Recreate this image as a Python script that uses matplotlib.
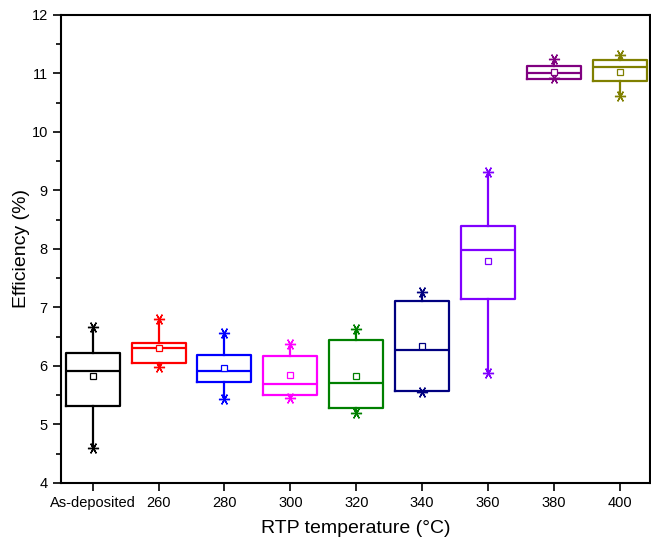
import matplotlib
matplotlib.use("Agg")
import matplotlib.pyplot as plt
from matplotlib.ticker import MultipleLocator

plt.rcParams['font.family'] = ['Liberation Sans', 'DejaVu Sans']

categories = ['As-deposited', '260', '280', '300', '320', '340', '360', '380', '400']
q1      = [5.32, 6.05, 5.72, 5.51, 5.28, 5.57, 7.15, 10.91, 10.87]
median  = [5.92, 6.31, 5.92, 5.69, 5.71, 6.27, 7.99, 11.01, 11.11]
q3      = [6.23, 6.39, 6.19, 6.17, 6.45, 7.11, 8.39, 11.13, 11.23]
mean    = [5.83, 6.30, 5.97, 5.84, 5.83, 6.34, 7.79, 11.03, 11.02]
minimum = [4.60, 5.99, 5.43, 5.45, 5.20, 5.56, 5.88, 10.92, 10.61]
maximum = [6.66, 6.80, 6.56, 6.38, 6.64, 7.26, 9.31, 11.24, 11.31]
colors  = ['#000000', '#FF0000', '#0000FF', '#FF00FF', '#008000',
           '#000080', '#8000FF', '#800080', '#808000']

fig = plt.figure(figsize=(6.51, 5.43), dpi=100)
ax = fig.add_axes([0.0937, 0.1105, 0.905, 0.862])

positions = list(range(1, len(categories) + 1))
for i, pos in enumerate(positions):
    c = colors[i]
    stats = [dict(med=median[i], q1=q1[i], q3=q3[i], whislo=minimum[i],
                  whishi=maximum[i], mean=mean[i], fliers=[], label=categories[i])]
    ax.bxp(stats, positions=[pos], widths=0.82, showmeans=True, showcaps=False,
           showfliers=False, manage_ticks=False,
           boxprops=dict(color=c, linewidth=1.6),
           whiskerprops=dict(color=c, linewidth=1.6),
           medianprops=dict(color=c, linewidth=1.6),
           meanprops=dict(marker='s', markerfacecolor='white', markeredgecolor=c,
                          color=c, markersize=5, markeredgewidth=0.9, linestyle='none'))
    ax.plot([pos, pos], [minimum[i], maximum[i]], linestyle='none',
            marker=(6, 2, 90), markersize=8, markeredgewidth=1.0, color=c)

ax.set_xlim(0.52, 9.46)
ax.set_ylim(4, 12)
ax.set_xticks(positions)
ax.set_xticklabels(categories, fontsize=10.5)
ax.yaxis.set_major_locator(MultipleLocator(1))
ax.yaxis.set_minor_locator(MultipleLocator(0.5))
ax.tick_params(axis='both', which='major', direction='out', length=6, width=1.2, labelsize=10.5)
ax.tick_params(axis='y', which='minor', direction='out', length=3.5, width=1.2)
for s in ax.spines.values():
    s.set_linewidth(1.5)

ax.set_xlabel('RTP temperature (\u00b0C)', fontsize=14, labelpad=7)
ax.set_ylabel('Efficiency (%)', fontsize=14, labelpad=1)

fig.savefig('out.png', dpi=100)
